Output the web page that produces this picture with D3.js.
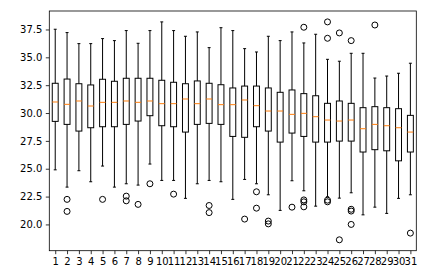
<!DOCTYPE html>
<head>
<meta charset="utf-8">
<style>
    body { margin: 0; background: #fff; }
    text { font-family: "DejaVu Sans", sans-serif; font-size: 10px; fill: #000; }
</style>
</head>
<body>
    <script src="https://d3js.org/d3.v7.min.js"></script>
    <script>

    ///////////////////////////
    ////////// DATA ///////////
    ///////////////////////////

    const categories = ['1','2','3','4','5','6','7','8','9','10','11','12','13','14','15','16',
                        '17','18','19','20','21','22','23','24','25','26','27','28','29','30','31'];

    const whiskLo = [24.9, 23.35, 24.82, 23.83, 25.24, 23.35, 23.65, 23.53, 25.42, 23.95, 23.95, 22.34,
                     23.65, 23.95, 23.83, 22.25, 24.04, 23.65, 22.66, 21.26, 23.92, 23.02, 21.64, 22.48,
                     22.36, 22.84, 20.86, 21.55, 20.99, 22.34, 22.66];
    const q1 = [29.25, 28.98, 28.38, 28.68, 28.77, 28.77, 28.98, 29.28, 29.76, 28.86, 28.77, 28.29,
                28.98, 29.07, 28.98, 27.9, 27.82, 28.77, 28.38, 27.39, 28.2, 27.9, 27.39, 27.39,
                27.48, 27.48, 26.5, 26.71, 26.61, 25.71, 26.5];
    const medians = [30.99, 30.78, 31.08, 30.63, 30.96, 30.96, 31.08, 30.96, 31.08, 30.84, 30.84, 31.26,
                     30.84, 31.26, 30.75, 30.75, 31.17, 30.66, 30.18, 30.18, 29.88, 29.97, 29.67, 29.37,
                     29.28, 29.37, 28.59, 28.98, 28.86, 28.68, 28.29];
    const q3 = [32.67, 33.05, 32.63, 32.52, 33.03, 32.85, 33.12, 33.12, 33.12, 32.94, 32.76, 32.63,
                32.88, 32.67, 32.54, 32.25, 32.42, 32.42, 32.25, 31.86, 32.07, 31.74, 31.55, 30.87,
                31.08, 30.87, 30.48, 30.57, 30.48, 30.39, 29.79];
    const whiskHi = [37.52, 37.22, 36.23, 36.23, 36.68, 36.5, 37.4, 36.26, 37.4, 38.18, 37.4, 36.89,
                     37.28, 35.87, 37.66, 37.4, 35.78, 35.48, 36.89, 36.5, 37.28, 36.29, 37.07, 34.82,
                     34.65, 35.36, 35.36, 33.14, 33.32, 33.57, 34.47];
    const fliers = [[], [22.25, 21.17], [], [], [22.25], [], [22.54, 22.12], [21.8], [23.65], [], [22.72], [],
                    [], [21.7, 21.06], [], [], [20.48], [22.93, 21.46], [20.3, 20.05], [], [21.55],
                    [37.7, 22.2, 22.03, 21.58], [], [38.18, 36.71, 22.18, 22.03],
                    [37.19, 18.62], [36.5, 21.36, 21.2, 20.0], [], [37.9], [], [], [19.22]];

    const yTicks = [20, 22.5, 25, 27.5, 30, 32.5, 35, 37.5];

    ///////////////////////////
    ////////// SETUP //////////
    ///////////////////////////

    const W = 426, H = 276;
    const plot = { left: 49.3, right: 416.3, top: 11, bottom: 250.7 };

    let svg = d3.select('body').append('svg')
        .attr('width', W)
        .attr('height', H);

    let boxes = categories.map((c, i) => ({
        pos: i + 1, lo: whiskLo[i], q1: q1[i], med: medians[i], q3: q3[i], hi: whiskHi[i], out: fliers[i]
    }));

    // matplotlib style autoscale: 5% margin around all drawn values
    let allVals = boxes.flatMap(b => [b.lo, b.hi].concat(b.out));
    let [mn, mx] = d3.extent(allVals);
    let pad = (mx - mn) * 0.05;

    let x = d3.scaleLinear().domain([0.5, categories.length + 0.5]).range([plot.left, plot.right]);
    let y = d3.scaleLinear().domain([mn - pad, mx + pad]).range([plot.bottom, plot.top]);

    const boxW = (x(1.5) - x(1)) ;      // 0.5 of a slot
    const capW = boxW / 2;

    ///////////////////////////
    ////////// AXES ///////////
    ///////////////////////////

    let xAxis = d3.axisBottom(x)
        .tickValues(boxes.map(b => b.pos))
        .tickFormat((d, i) => categories[i])
        .tickSize(3.5).tickPadding(3.5);
    let yAxis = d3.axisLeft(y)
        .tickValues(yTicks)
        .tickFormat(d3.format('.1f'))
        .tickSize(3.5).tickPadding(3.5);

    let gx = svg.append('g').attr('transform', 'translate(0,' + plot.bottom + ')').call(xAxis);
    let gy = svg.append('g').attr('transform', 'translate(' + plot.left + ',0)').call(yAxis);
    [gx, gy].forEach(g => {
        g.select('.domain').remove();
        g.selectAll('line').attr('stroke', '#000').attr('stroke-width', 0.8);
        g.selectAll('text').attr('fill', '#000').style('font-size', '10px');
    });

    ///////////////////////////
    ////////// BOXES //////////
    ///////////////////////////

    let g = svg.append('g');
    let bx = g.selectAll('g.box').data(boxes).enter().append('g').attr('class', 'box');

    // whiskers
    bx.append('line')
        .attr('x1', d => x(d.pos)).attr('x2', d => x(d.pos))
        .attr('y1', d => y(d.q1)).attr('y2', d => y(d.lo))
        .attr('stroke', '#000').attr('stroke-width', 1);
    bx.append('line')
        .attr('x1', d => x(d.pos)).attr('x2', d => x(d.pos))
        .attr('y1', d => y(d.q3)).attr('y2', d => y(d.hi))
        .attr('stroke', '#000').attr('stroke-width', 1);
    // caps
    bx.selectAll('line.cap').data(d => [[d.pos, d.lo], [d.pos, d.hi]]).enter().append('line')
        .attr('class', 'cap')
        .attr('x1', d => x(d[0]) - capW / 2).attr('x2', d => x(d[0]) + capW / 2)
        .attr('y1', d => y(d[1])).attr('y2', d => y(d[1]))
        .attr('stroke', '#000').attr('stroke-width', 1);
    // box
    bx.append('rect')
        .attr('x', d => x(d.pos) - boxW / 2)
        .attr('y', d => y(d.q3))
        .attr('width', boxW)
        .attr('height', d => y(d.q1) - y(d.q3))
        .attr('fill', 'none').attr('stroke', '#000').attr('stroke-width', 1);
    // median
    bx.append('line')
        .attr('x1', d => x(d.pos) - boxW / 2).attr('x2', d => x(d.pos) + boxW / 2)
        .attr('y1', d => y(d.med)).attr('y2', d => y(d.med))
        .attr('stroke', '#ff7f0e').attr('stroke-width', 1);
    // fliers
    bx.selectAll('circle').data(d => d.out.map(v => [d.pos, v])).enter().append('circle')
        .attr('cx', d => x(d[0])).attr('cy', d => y(d[1]))
        .attr('r', 3)
        .attr('fill', 'none').attr('stroke', '#000').attr('stroke-width', 1);

    // frame
    svg.append('rect')
        .attr('x', plot.left).attr('y', plot.top)
        .attr('width', plot.right - plot.left).attr('height', plot.bottom - plot.top)
        .attr('fill', 'none').attr('stroke', '#000').attr('stroke-width', 0.8);

    </script>
</body>
